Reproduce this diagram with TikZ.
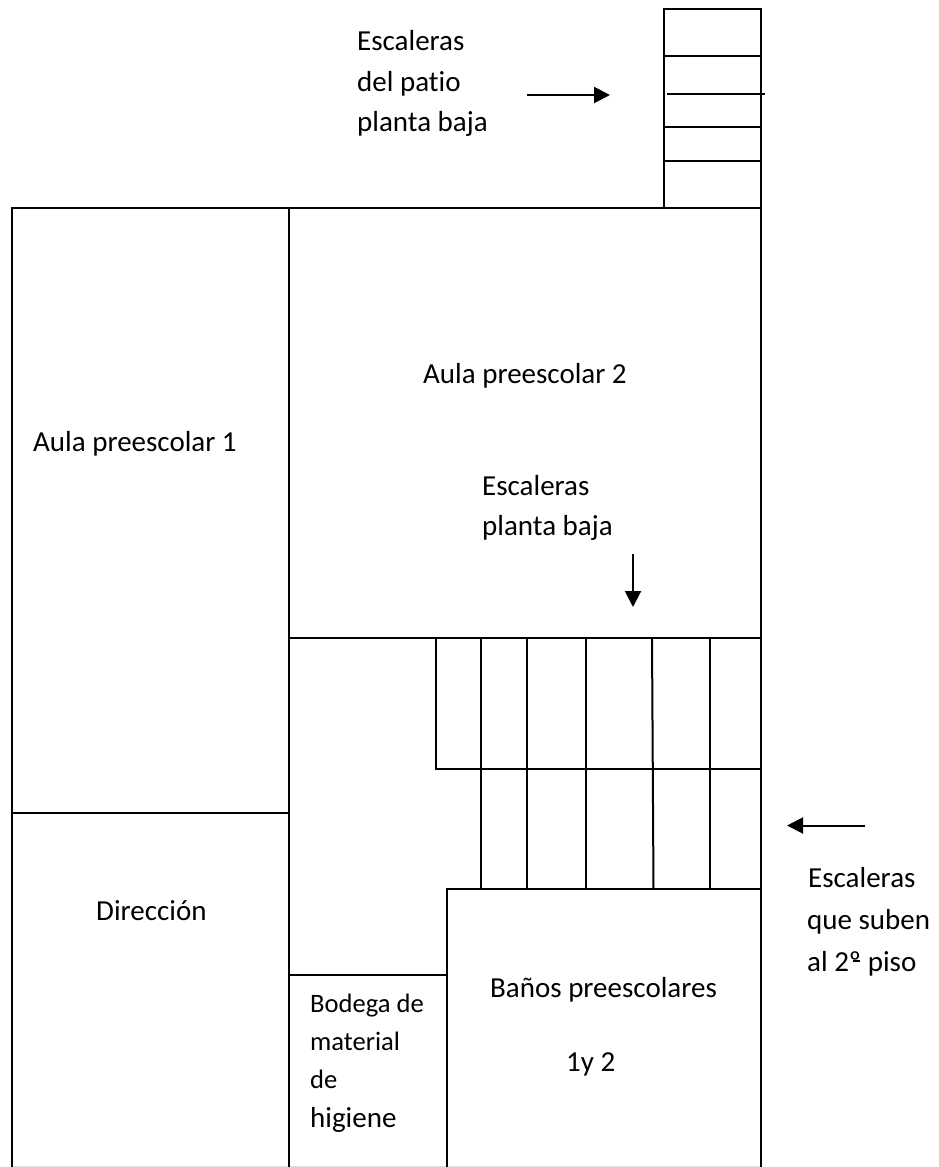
\documentclass[tikz,border=0pt]{standalone}
\usepackage{fontspec}
\setmainfont[Ligatures=NoCommon]{Carlito}
\usetikzlibrary{arrows.meta}
\tikzset{
  wall/.style={draw=black,line width=2pt},
  lbl/.style={inner sep=0pt,anchor=base west,font=\fontsize{29}{34}\selectfont},
  small/.style={inner sep=0pt,anchor=base west,font=\fontsize{26.6}{31}\selectfont},
  pointer/.style={draw=black,line width=2pt,-{Triangle[length=16pt,width=16pt]}}
}
\begin{document}
\begin{tikzpicture}[x=1pt,y=-1pt]
\useasboundingbox[fill=white] (0,0) rectangle (938,1167);
\draw[line width=1pt,black!12] (12,1166.3) -- (761,1166.3);
\draw[wall] (12,1167) -- (12,208) -- (761,208) -- (761,1167);
\draw[wall] (289,208) -- (289,1167);
\draw[wall] (12,813) -- (289,813);
\draw[wall] (289,638) -- (761,638);
\draw[wall] (289,975) -- (446.5,975);
\draw[wall] (446.5,1167) -- (446.5,889) -- (761,889);
\draw[wall] (436,638) -- (436,769) -- (761,769);
\draw[wall] (480.5,638) -- (480.5,889);
\draw[wall] (526.5,638) -- (526.5,889);
\draw[wall] (585.5,638) -- (585.5,889);
\draw[wall] (652,638) -- (653.5,889);
\draw[wall] (710,638) -- (710,889);
% patio stairs
\draw[wall] (664,208) -- (664,9) -- (761,9) -- (761,208);
\draw[wall] (664,56) -- (761,56);
\draw[wall] (667,94) -- (765,94);
\draw[wall] (664,127) -- (761,127);
\draw[wall] (664,161) -- (761,161);
% arrows
\coordinate (a1s) at (527,95); \coordinate (a1e) at (610,95);
\coordinate (a2s) at (633,554); \coordinate (a2e) at (633,607);
\coordinate (a3s) at (865,825.5); \coordinate (a3e) at (787,825.5);
\draw[pointer] (a1s) -- (a1e);
\draw[pointer] (a2s) -- (a2e);
\draw[pointer] (a3s) -- (a3e);
% labels
\node[lbl] (t1) at (357,50) {Escaleras};
\node[lbl] (t2) at (357,91) {del patio};
\node[lbl] (t3) at (357,131) {planta baja};
\node[lbl] (t4) at (33,451) {Aula preescolar 1};
\node[lbl] (t5) at (423,383) {Aula preescolar 2};
\node[lbl] (t6) at (482,495) {Escaleras};
\node[lbl] (t7) at (482,535) {planta baja};
\node[lbl] (t8) at (96,920) {Dirección};
\node[lbl] (t9) at (490,997) {Baños preescolares};
\node[lbl] (t10) at (566,1071) {1y 2};
\node[lbl] (t15) at (808,887) {Escaleras};
\node[lbl] (t16) at (807,929) {que suben};
\node[lbl] (t17) at (807,971) {al 2º\kern-0.3em\rule[0.32em]{0.27em}{0.05em}\kern0.03em{} piso};
\node[small] (t11) at (310,1012) {Bodega de};
\node[small] (t12) at (310,1050) {material};
\node[small] (t13) at (310,1088) {de};
\node[lbl] (t14) at (310,1127) {higiene};
\end{tikzpicture}
\end{document}
